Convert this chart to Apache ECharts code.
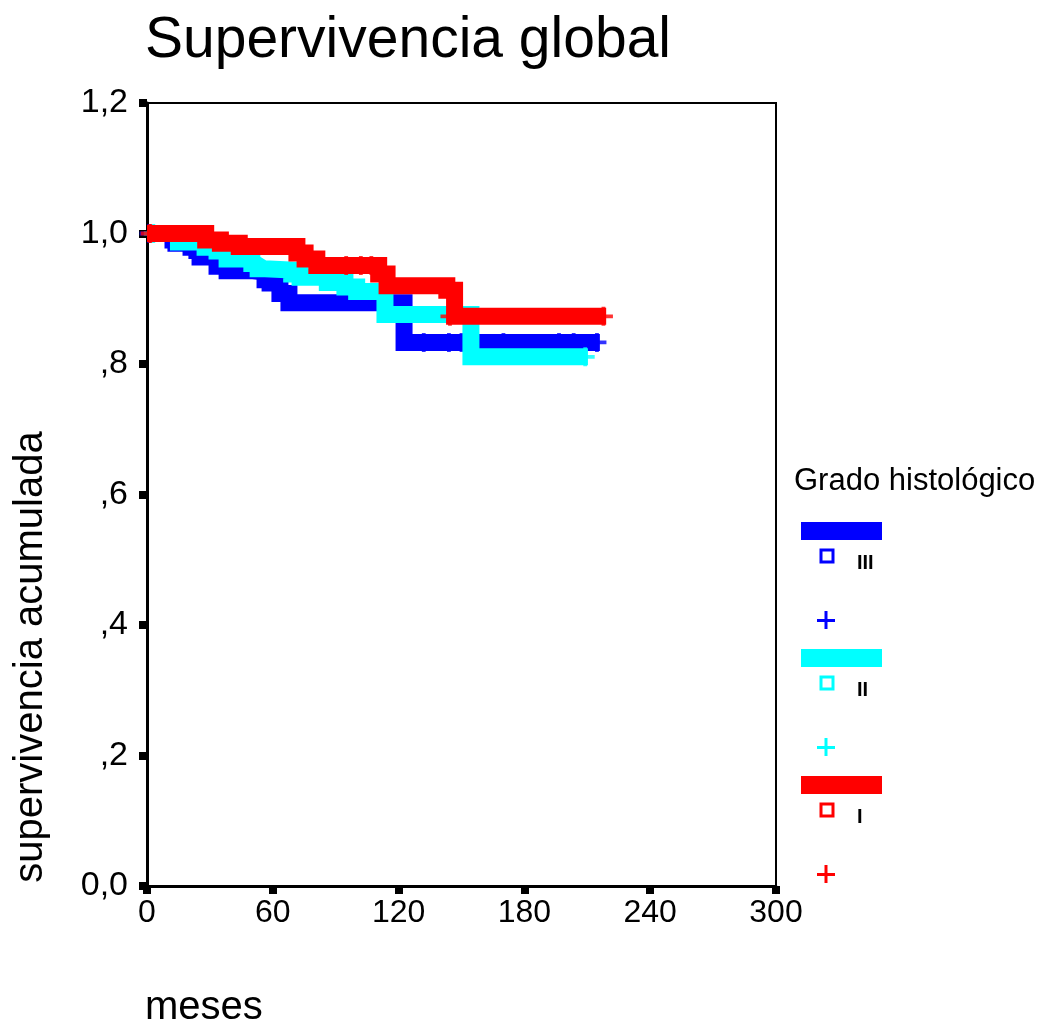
<!DOCTYPE html>
<html>
<head>
<meta charset="utf-8">
<script src="https://cdn.jsdelivr.net/npm/echarts@6/dist/echarts.min.js"></script>
<style>html,body{margin:0;padding:0;background:#fff;}#c{width:1051px;height:1032px;}</style>
</head>
<body>
<div id="c"></div>
<script>
// ---- data (months, cumulative survival) ----
const groupNames = ['III', 'II', 'I'];
const groupColors = ['#0000ff', '#00ffff', '#ff0000'];

const blueT = [0, 12.4, 13.8, 21, 23.8, 25.3, 33.4, 38.2, 50.6, 56.3, 58.7, 63.4, 67.7, 122.6, 216];
const blueS = [1.0, 0.99, 0.985, 0.979, 0.974, 0.964, 0.95, 0.943, 0.941, 0.929, 0.924, 0.908, 0.894, 0.833, 0.833];
const cyanT = [0, 15, 27.7, 33.4, 38.2, 50, 51.5, 53, 56.3, 69, 73, 86, 94.4, 100, 113.5, 154.5, 210.3];
const cyanS = [1.0, 0.987, 0.979, 0.973, 0.961, 0.954, 0.951, 0.946, 0.944, 0.938, 0.933, 0.925, 0.918, 0.911, 0.876, 0.811, 0.811];
const redT = [0, 28, 35, 44, 71.5, 75.4, 81, 110.5, 114.5, 143, 146.7, 219];
const redS = [1.0, 0.99, 0.985, 0.98, 0.97, 0.961, 0.951, 0.938, 0.92, 0.913, 0.873, 0.873];

// censored cases
const blueCensT = [1, 132, 144, 150, 170, 196.5, 203.5, 214.6];
const blueCensS = [1.0, 0.833, 0.833, 0.833, 0.833, 0.833, 0.833, 0.833];
const cyanCensT = [3, 149.8, 209];
const cyanCensS = [1.0, 0.876, 0.811];
const redCensT = [1.5, 95, 102, 107, 144.5, 217.7];
const redCensS = [1.0, 0.951, 0.951, 0.951, 0.873, 0.873];

const xTicks = [0, 60, 120, 180, 240, 300];
const yTickLabels = ['0,0', ',2', ',4', ',6', ',8', '1,0', '1,2'];

const titleText = 'Supervivencia global';
const xName = 'meses';
const yName = 'supervivencia acumulada';
const legendTitle = 'Grado histológico';

// ---- build ----
const FONT = '"Liberation Sans", Arial, sans-serif';
const PLUS = 'path://M8,0H12V8H20V12H12V20H8V12H0V8H8Z';
const curves = [[blueT, blueS], [cyanT, cyanS], [redT, redS]];
const cens = [[blueCensT, blueCensS], [cyanCensT, cyanCensS], [redCensT, redCensS]];

const series = [];
curves.forEach(function (c, i) {
  series.push({
    type: 'line', step: 'end', showSymbol: false, animation: false, z: 2 + i,
    data: c[0].map(function (t, k) { return [t, c[1][k]]; }),
    lineStyle: { color: groupColors[i], width: 17, join: 'miter', cap: 'butt' },
    emphasis: { disabled: true }
  });
});
cens.forEach(function (c, i) {
  series.push({
    type: 'scatter', symbol: PLUS, symbolSize: 19, animation: false, z: 2 + i,
    data: c[0].map(function (t, k) { return [t, c[1][k]]; }),
    itemStyle: { color: groupColors[i] }
  });
});

// legend graphics
const graphic = [
  { type: 'text', left: 145, top: 13, style: { text: titleText, font: '57px ' + FONT, fill: '#000' } },
  { type: 'text', x: 145, y: 1028, style: { text: xName, font: '40px ' + FONT, fill: '#000', textVerticalAlign: 'bottom' } },
  { type: 'text', x: 31, y: 657, rotation: Math.PI / 2, style: { text: yName, font: '40px ' + FONT, fill: '#000', textAlign: 'center', textVerticalAlign: 'middle' } },
  { type: 'text', x: 794, y: 497, style: { text: legendTitle, font: '31px ' + FONT, fill: '#000', textVerticalAlign: 'bottom' } }
];
groupNames.forEach(function (name, i) {
  const y0 = 522 + i * 127;
  const col = groupColors[i];
  graphic.push({ type: 'rect', shape: { x: 801, y: y0, width: 81, height: 18 }, style: { fill: col } });
  graphic.push({ type: 'rect', shape: { x: 821, y: y0 + 28, width: 12, height: 12 }, style: { fill: '#fff', stroke: col, lineWidth: 3 } });
  graphic.push({ type: 'text', x: 857, y: y0 + 41, style: { text: name, font: 'bold 20px ' + FONT, fill: '#000', textVerticalAlign: 'middle' } });
  graphic.push({ type: 'rect', shape: { x: 817, y: y0 + 97, width: 18, height: 3 }, style: { fill: col } });
  graphic.push({ type: 'rect', shape: { x: 824.5, y: y0 + 89, width: 3, height: 18 }, style: { fill: col } });
});

const chart = echarts.init(document.getElementById('c'), null, { renderer: 'canvas' });
chart.setOption({
  backgroundColor: '#fff',
  animation: false,
  grid: { left: 147, right: 275, top: 103, bottom: 146, show: true, borderColor: '#000', borderWidth: 2, backgroundColor: 'transparent' },
  xAxis: {
    type: 'value', min: 0, max: 300, interval: 60,
    axisLine: { show: true, lineStyle: { color: '#000', width: 3 } },
    axisTick: { show: true, length: 8, lineStyle: { color: '#000', width: 8 } },
    splitLine: { show: false },
    axisLabel: { margin: 11, color: '#000', fontSize: 32, fontFamily: FONT,
      formatter: function (v) { return String(xTicks[xTicks.indexOf(v)]); } }
  },
  yAxis: {
    type: 'value', min: 0, max: 1.2, interval: 0.2,
    axisLine: { show: true, lineStyle: { color: '#000', width: 3 } },
    axisTick: { show: true, length: 8, lineStyle: { color: '#000', width: 8 } },
    splitLine: { show: false },
    axisLabel: { margin: 19, color: '#000', fontSize: 34, fontFamily: FONT,
      formatter: function (v) { return yTickLabels[Math.round(v / 0.2)]; } }
  },
  graphic: graphic,
  series: series
});
</script>
</body>
</html>
